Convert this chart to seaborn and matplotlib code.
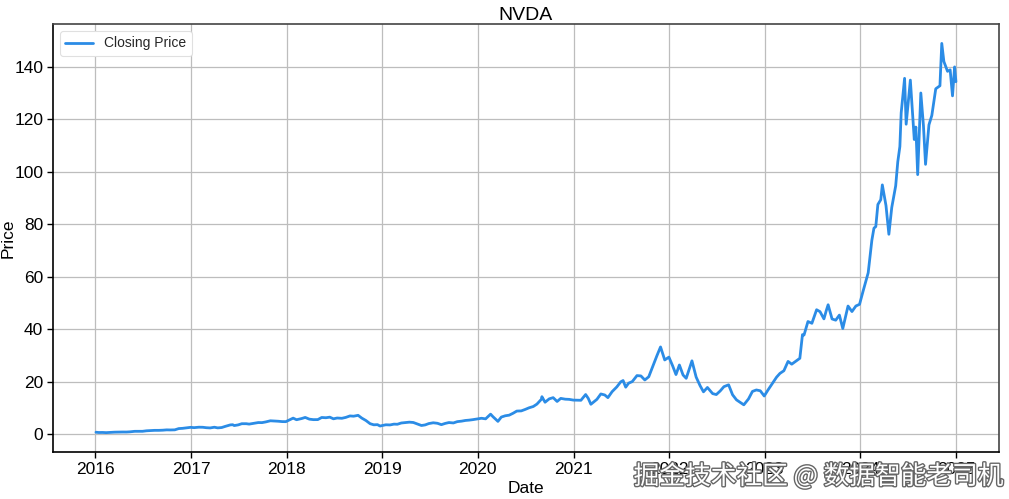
import matplotlib
matplotlib.use("Agg")
import matplotlib.pyplot as plt
import matplotlib.patheffects as pe
import seaborn as sns
import pandas as pd

dates = [
    "2016-01-04", "2016-01-15", "2016-01-29", "2016-02-12", "2016-02-29", "2016-03-15", "2016-03-31",
    "2016-04-15", "2016-04-29", "2016-05-13", "2016-05-31", "2016-06-15", "2016-06-30", "2016-07-15",
    "2016-07-29", "2016-08-15", "2016-08-31", "2016-09-15", "2016-09-30", "2016-10-14", "2016-10-31",
    "2016-11-15", "2016-11-30", "2016-12-15", "2016-12-30",
    "2017-01-13", "2017-01-31", "2017-02-15", "2017-02-28", "2017-03-15", "2017-03-31", "2017-04-13",
    "2017-04-28", "2017-05-12", "2017-05-31", "2017-06-09", "2017-06-15", "2017-06-30", "2017-07-14",
    "2017-07-31", "2017-08-11", "2017-08-31", "2017-09-15", "2017-09-29", "2017-10-13", "2017-10-31",
    "2017-11-15", "2017-11-30", "2017-12-15", "2017-12-29",
    "2018-01-12", "2018-01-26", "2018-02-08", "2018-02-28", "2018-03-13", "2018-03-29", "2018-04-13",
    "2018-04-30", "2018-05-15", "2018-05-31", "2018-06-15", "2018-06-29", "2018-07-13", "2018-07-31",
    "2018-08-15", "2018-08-31", "2018-09-14", "2018-10-01", "2018-10-15", "2018-10-31", "2018-11-16",
    "2018-11-30", "2018-12-14", "2018-12-24", "2018-12-31",
    "2019-01-15", "2019-01-31", "2019-02-15", "2019-02-28", "2019-03-15", "2019-03-29", "2019-04-15",
    "2019-04-30", "2019-05-15", "2019-05-31", "2019-06-14", "2019-06-28", "2019-07-15", "2019-07-31",
    "2019-08-15", "2019-08-30", "2019-09-13", "2019-09-30", "2019-10-15", "2019-10-31", "2019-11-15",
    "2019-11-29", "2019-12-13", "2019-12-31",
    "2020-01-15", "2020-01-31", "2020-02-19", "2020-02-28", "2020-03-18", "2020-03-31", "2020-04-15",
    "2020-04-30", "2020-05-15", "2020-05-29", "2020-06-15", "2020-06-30", "2020-07-15", "2020-07-31",
    "2020-08-14", "2020-08-31", "2020-09-02", "2020-09-14", "2020-09-30", "2020-10-15", "2020-10-30",
    "2020-11-13", "2020-11-30", "2020-12-15", "2020-12-31",
    "2021-01-15", "2021-01-29", "2021-02-16", "2021-02-26", "2021-03-08", "2021-03-31", "2021-04-15",
    "2021-04-30", "2021-05-12", "2021-05-28", "2021-06-15", "2021-06-30", "2021-07-09", "2021-07-19",
    "2021-07-30", "2021-08-13", "2021-08-31", "2021-09-15", "2021-09-30", "2021-10-15", "2021-10-29",
    "2021-11-15", "2021-11-29", "2021-12-15", "2021-12-31",
    "2022-01-14", "2022-01-27", "2022-02-09", "2022-02-23", "2022-03-07", "2022-03-29", "2022-04-14",
    "2022-04-29", "2022-05-12", "2022-05-27", "2022-06-16", "2022-06-30", "2022-07-15", "2022-07-29",
    "2022-08-16", "2022-08-31", "2022-09-15", "2022-09-30", "2022-10-13", "2022-10-31", "2022-11-15",
    "2022-11-30", "2022-12-15", "2022-12-30",
    "2023-01-13", "2023-01-31", "2023-02-15", "2023-02-28", "2023-03-15", "2023-03-31", "2023-04-14",
    "2023-04-28", "2023-05-15", "2023-05-25", "2023-05-31", "2023-06-15", "2023-06-30", "2023-07-18",
    "2023-07-31", "2023-08-15", "2023-08-24", "2023-08-31", "2023-09-15", "2023-09-29", "2023-10-13",
    "2023-10-26", "2023-11-15", "2023-11-30", "2023-12-15", "2023-12-29",
    "2024-01-12", "2024-01-31", "2024-02-14", "2024-02-22", "2024-02-29", "2024-03-08", "2024-03-19",
    "2024-03-25", "2024-04-08", "2024-04-19", "2024-04-30", "2024-05-15", "2024-05-23", "2024-05-31",
    "2024-06-05", "2024-06-18", "2024-06-24", "2024-07-10", "2024-07-25", "2024-07-31", "2024-08-07",
    "2024-08-19", "2024-08-29", "2024-09-06", "2024-09-19", "2024-09-30", "2024-10-15", "2024-10-31",
    "2024-11-07", "2024-11-15", "2024-11-29", "2024-12-09", "2024-12-18", "2024-12-26", "2024-12-31",
]

closing_price = [
    0.81, 0.71, 0.73, 0.66, 0.77, 0.84, 0.89,
    0.90, 0.89, 0.97, 1.16, 1.15, 1.17, 1.36,
    1.43, 1.53, 1.53, 1.59, 1.71, 1.68, 1.72,
    2.20, 2.30, 2.49, 2.67,
    2.56, 2.73, 2.70, 2.54, 2.45, 2.72, 2.47,
    2.60, 3.05, 3.60, 3.68, 3.35, 3.61, 4.06,
    4.06, 3.91, 4.24, 4.50, 4.47, 4.73, 5.17,
    5.10, 5.00, 4.86, 4.84,
    5.53, 6.18, 5.57, 6.04, 6.45, 5.79, 5.61,
    5.62, 6.43, 6.33, 6.55, 5.92, 6.23, 6.12,
    6.46, 7.02, 6.92, 7.25, 6.20, 5.27, 4.06,
    3.64, 3.70, 3.17, 3.34,
    3.65, 3.59, 3.90, 3.85, 4.33, 4.49, 4.65,
    4.52, 3.95, 3.38, 3.60, 4.11, 4.41, 4.22,
    3.70, 4.18, 4.50, 4.35, 4.85, 5.03, 5.30,
    5.42, 5.60, 5.88,
    6.13, 5.91, 7.70, 6.73, 4.95, 6.59, 7.08,
    7.31, 8.05, 8.87, 8.94, 9.49, 10.12, 10.61,
    11.53, 13.37, 14.36, 12.24, 13.53, 13.98, 12.53,
    13.70, 13.40, 13.33, 13.05,
    13.01, 12.98, 15.17, 13.70, 11.46, 13.34, 15.39,
    15.00, 13.99, 16.26, 18.07, 20.00, 20.50, 17.97,
    19.49, 20.10, 22.38, 22.26, 20.71, 21.94, 25.56,
    29.91, 33.30, 28.34, 29.41,
    26.14, 22.77, 26.43, 22.61, 21.35, 28.00, 21.81,
    18.55, 16.20, 17.86, 15.52, 15.16, 16.55, 18.16,
    18.87, 15.09, 13.14, 12.14, 11.25, 13.50, 16.36,
    16.91, 16.59, 14.61,
    16.84, 19.54, 21.77, 23.22, 24.23, 27.78, 26.73,
    27.75, 28.97, 37.98, 37.83, 42.97, 42.30, 47.46,
    46.73, 43.98, 47.16, 49.35, 43.95, 43.48, 45.42,
    40.31, 48.87, 46.77, 48.88, 49.52,
    54.72, 61.53, 73.90, 78.54, 79.11, 87.54, 89.36,
    95.00, 87.10, 76.20, 86.40, 94.64, 103.80, 109.63,
    122.44, 135.58, 118.11, 134.91, 112.28, 117.02, 98.91,
    130.00, 117.59, 102.83, 117.87, 121.44, 131.60, 132.76,
    148.88, 141.98, 138.25, 138.81, 128.91, 139.93, 134.29,
]

df = pd.DataFrame({"Date": pd.to_datetime(dates), "Closing Price": closing_price})

sns.set_theme(style="whitegrid")
plt.rcParams["font.family"] = ["Liberation Sans", "DejaVu Sans"]
plt.rcParams.update({
    "axes.edgecolor": "black",
    "axes.linewidth": 1.2,
    "grid.color": "#bdbdbd",
    "grid.linewidth": 0.9,
    "xtick.bottom": True,
    "ytick.left": True,
    "xtick.color": "black",
    "ytick.color": "black",
})

fig = plt.figure(figsize=(10.09, 4.99), dpi=100)
ax = fig.add_axes([0.0525, 0.094, 0.9375, 0.858])

sns.lineplot(data=df, x="Date", y="Closing Price", ax=ax, color="#2b8ce6",
             linewidth=2.0, label="Closing Price")

ax.set_title("NVDA", fontsize=14, color="black", pad=3)
ax.set_xlabel("Date", fontsize=12.5, color="black", labelpad=3)
ax.set_ylabel("Price", fontsize=12.5, color="black")
ax.yaxis.set_label_coords(-0.039, 0.5)
ax.tick_params(axis="both", labelsize=12.5, length=4, width=1, direction="out",
               colors="black", pad=3)
ax.set_yticks([0, 20, 40, 60, 80, 100, 120, 140])
years = pd.to_datetime([f"{y}-01-01" for y in range(2016, 2026)])
ax.set_xticks(years)
ax.set_xticklabels([str(y) for y in range(2016, 2026)])
for s in ax.spines.values():
    s.set_color("black")
    s.set_linewidth(1.2)
ax.spines["top"].set_color("#444444")
ax.spines["right"].set_color("#444444")

leg = ax.legend(loc="upper left", fontsize=10, frameon=True, handlelength=2.0,
                borderpad=0.4, framealpha=1)
leg.get_frame().set_edgecolor("#e0e0e0")
leg.get_frame().set_linewidth(0.8)

fig.text(0.628, 0.045, "掘金技术社区 @ 数据智能老司机", fontsize=18.5, color="white",
         family=["Noto Sans CJK SC", "DejaVu Sans"], ha="left", va="center",
         path_effects=[pe.withStroke(linewidth=2, foreground="#666666")])

fig.savefig("out.png", dpi=100)
